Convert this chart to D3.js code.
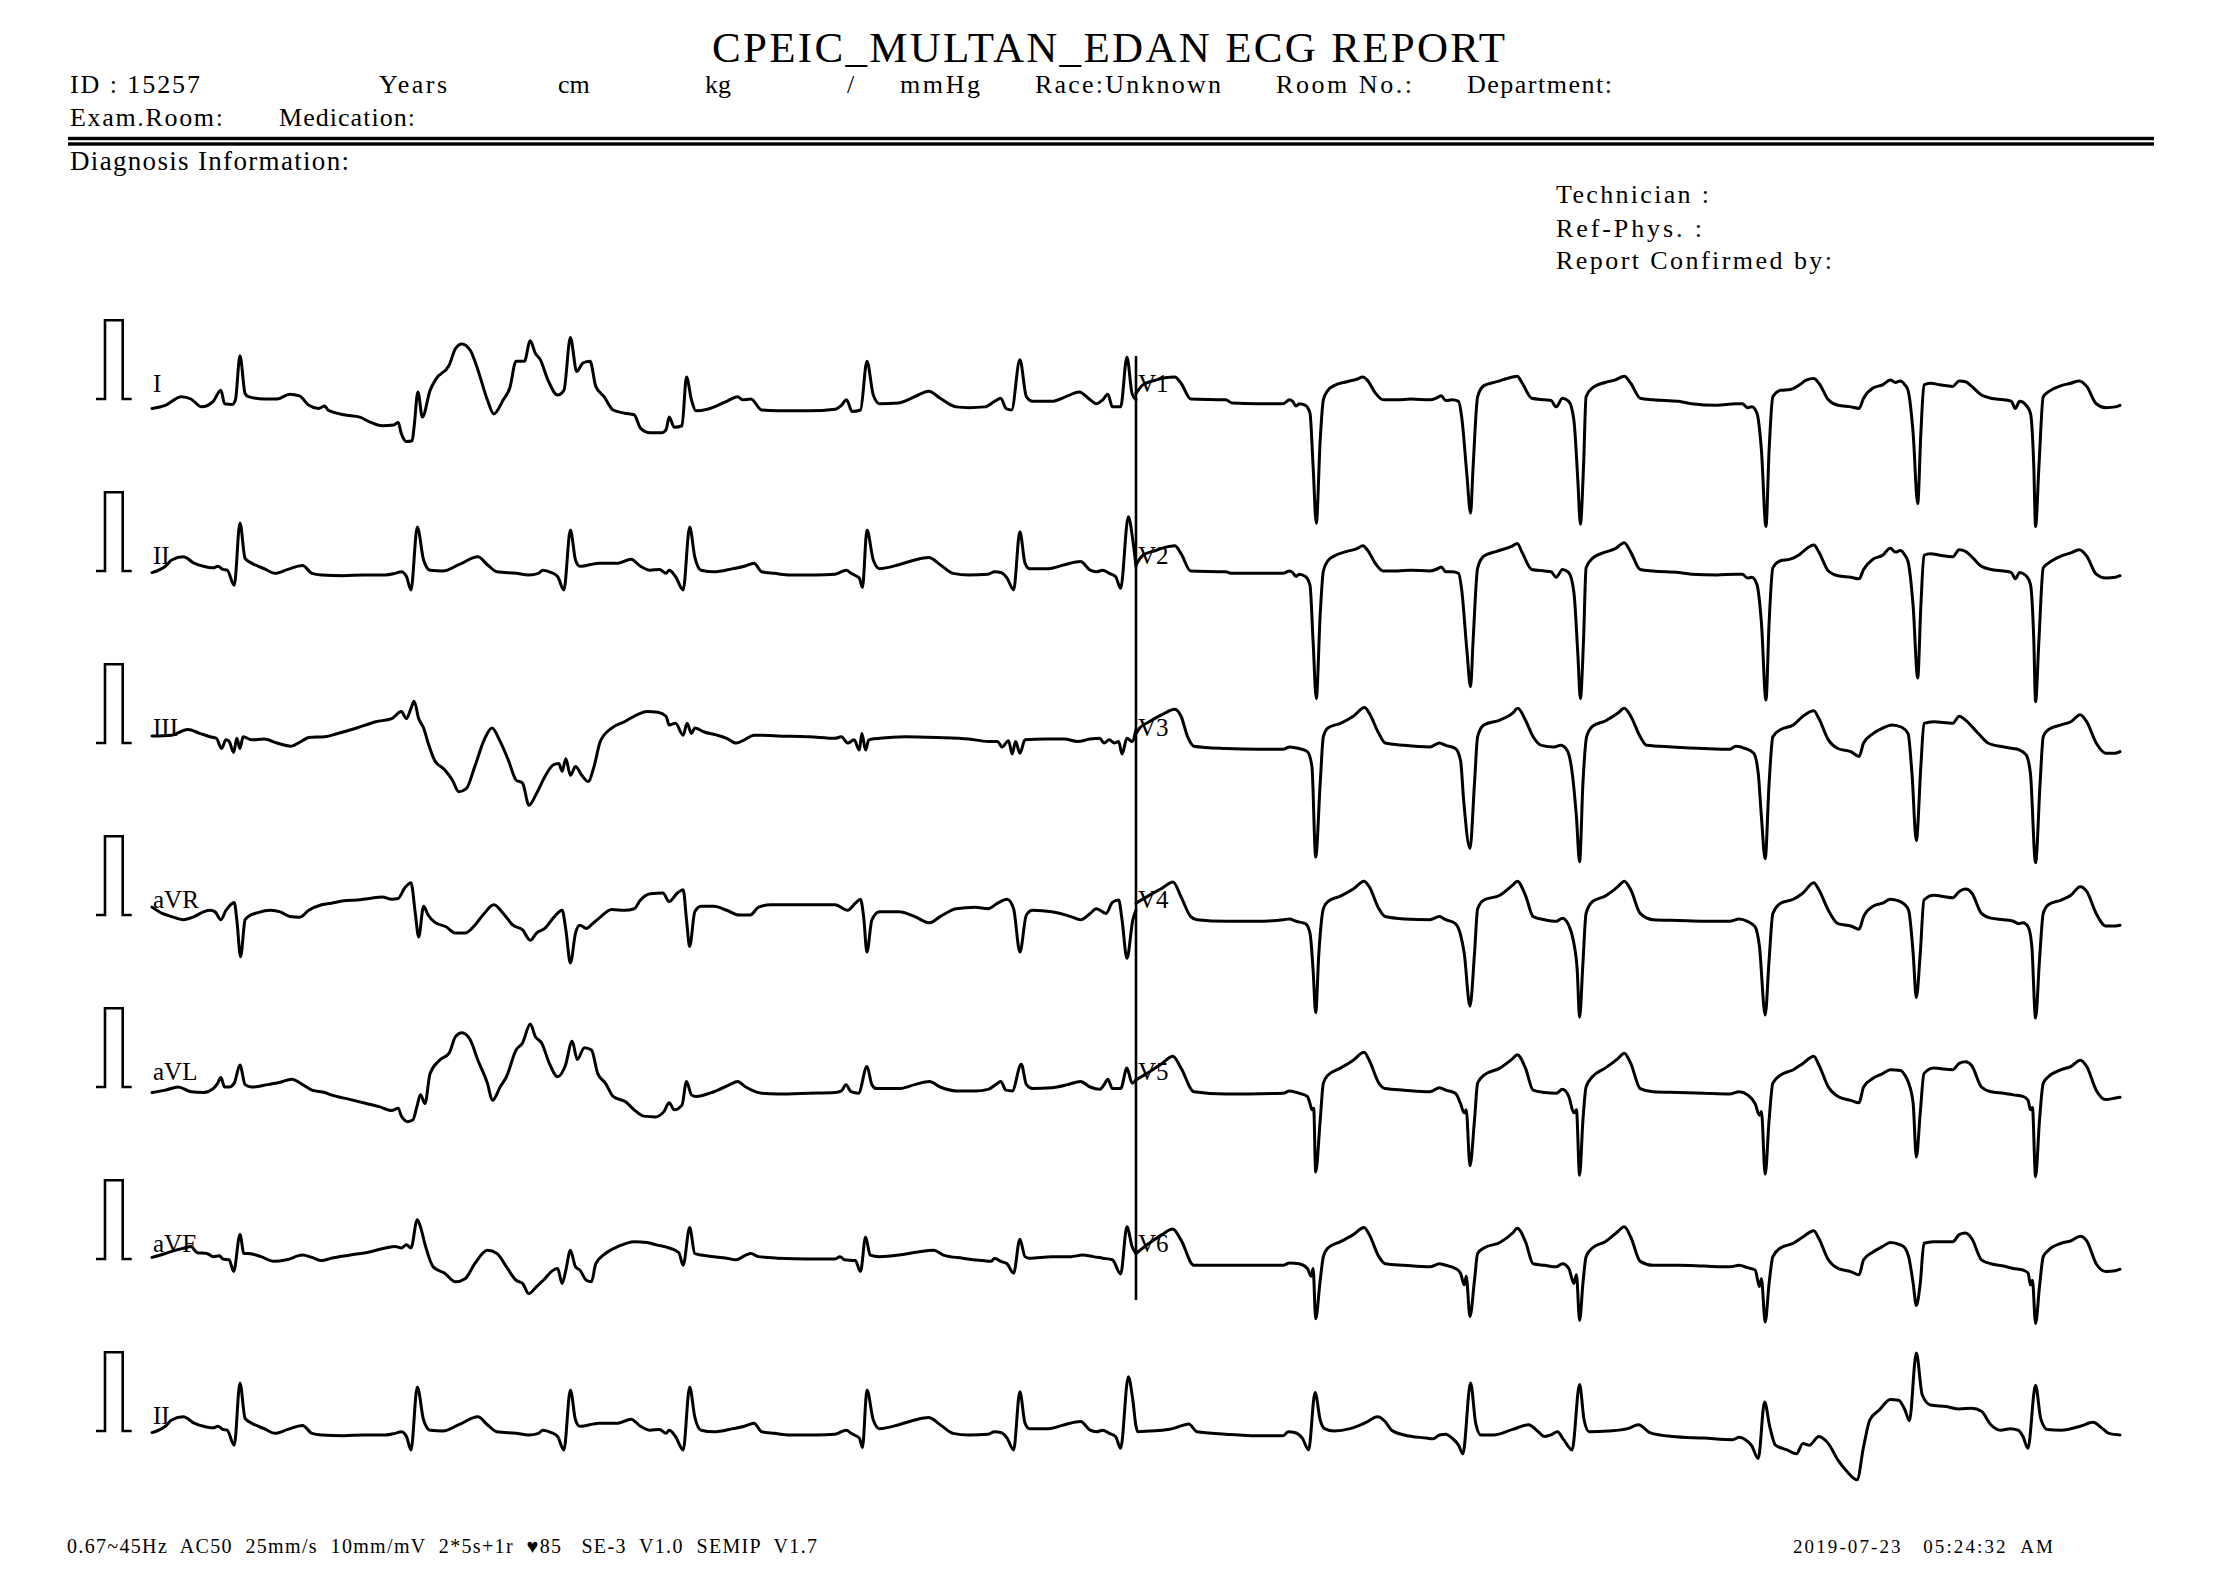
<!DOCTYPE html>
<html><head><meta charset="utf-8">
<script src="https://cdn.jsdelivr.net/npm/d3@7"></script>
<style>html,body{margin:0;padding:0;background:#fff}svg{display:block}</style>
</head><body>
<script>
// ---- Data: [time (s), amplitude (mV)] ----
const leadI = [[0,-0.12],[0.068,-0.08],[0.149,0.03],[0.198,0],[0.253,-0.1],[0.311,-0.03],[0.35,0.11],[0.369,-0.06],[0.408,-0.07],[0.424,-0.01],[0.447,0.55],[0.473,0.07],[0.489,0.03],[0.57,0],[0.635,0],[0.7,0.06],[0.749,0.04],[0.797,-0.08],[0.846,-0.12],[0.878,-0.09],[0.894,-0.14],[0.975,-0.2],[1.056,-0.23],[1.105,-0.29],[1.17,-0.34],[1.228,-0.33],[1.251,-0.3],[1.267,-0.44],[1.293,-0.54],[1.322,-0.53],[1.332,-0.35],[1.351,0.09],[1.374,-0.23],[1.413,0.11],[1.445,0.26],[1.51,0.43],[1.542,0.64],[1.575,0.7],[1.617,0.62],[1.656,0.37],[1.704,-0.01],[1.737,-0.19],[1.785,-0.01],[1.818,0.14],[1.85,0.48],[1.892,0.48],[1.922,0.74],[1.948,0.58],[1.973,0.5],[2.012,0.24],[2.061,0.05],[2.093,0.11],[2.126,0.78],[2.158,0.35],[2.191,0.46],[2.226,0.48],[2.255,0.16],[2.297,0.03],[2.343,-0.14],[2.401,-0.18],[2.45,-0.2],[2.482,-0.37],[2.531,-0.43],[2.589,-0.43],[2.612,-0.39],[2.628,-0.23],[2.654,-0.36],[2.693,-0.34],[2.716,0.28],[2.741,-0.01],[2.764,-0.15],[2.822,-0.13],[2.92,-0.03],[2.975,0.03],[3.001,-0.01],[3.043,0],[3.098,-0.14],[3.179,-0.15],[3.341,-0.15],[3.471,-0.13],[3.503,-0.08],[3.529,-0.01],[3.558,-0.16],[3.6,-0.14],[3.633,0.48],[3.665,0.05],[3.697,-0.06],[3.795,-0.05],[3.876,0.03],[3.947,0.1],[4.005,0.01],[4.086,-0.1],[4.151,-0.11],[4.232,-0.1],[4.281,-0.03],[4.313,0.01],[4.339,-0.12],[4.368,-0.14],[4.41,0.5],[4.443,0.03],[4.475,-0.03],[4.572,-0.03],[4.653,0.04],[4.711,0.09],[4.767,-0.01],[4.799,-0.06],[4.831,-0.01],[4.857,0.06],[4.88,-0.1],[4.922,-0.1],[4.954,0.53],[4.98,0.07],[5,-0.01]];

const leadII = [[0,-0.02],[0.068,0.06],[0.1,0.14],[0.159,0.18],[0.214,0.1],[0.262,0.06],[0.311,0.04],[0.334,0.06],[0.36,0.02],[0.382,0.01],[0.418,-0.18],[0.447,0.61],[0.473,0.16],[0.506,0.1],[0.57,0.03],[0.625,-0.03],[0.69,0.02],[0.765,0.07],[0.813,-0.03],[0.862,-0.05],[0.975,-0.06],[1.073,-0.05],[1.186,-0.05],[1.235,-0.03],[1.267,-0.01],[1.293,-0.07],[1.316,-0.24],[1.348,0.56],[1.38,0.14],[1.413,0.01],[1.478,0],[1.559,0.08],[1.656,0.18],[1.704,0.08],[1.753,-0.01],[1.85,-0.03],[1.915,-0.05],[1.964,-0.03],[1.986,0.01],[2.029,-0.02],[2.061,-0.07],[2.093,-0.24],[2.126,0.52],[2.152,0.14],[2.174,0.06],[2.272,0.1],[2.369,0.1],[2.434,0.15],[2.482,0.06],[2.531,0.01],[2.579,0.02],[2.612,-0.03],[2.628,0.01],[2.66,-0.07],[2.699,-0.24],[2.732,0.56],[2.758,0.18],[2.79,0.01],[2.855,-0.01],[2.952,0.03],[3.01,0.06],[3.059,0.1],[3.098,-0.01],[3.163,-0.03],[3.244,-0.05],[3.373,-0.05],[3.471,-0.04],[3.503,-0.01],[3.529,0.01],[3.552,-0.03],[3.594,-0.09],[3.61,-0.21],[3.633,0.52],[3.665,0.14],[3.697,0.03],[3.795,0.08],[3.876,0.14],[3.947,0.17],[4.005,0.08],[4.07,-0.03],[4.151,-0.05],[4.248,-0.04],[4.281,-0.01],[4.313,-0.02],[4.345,-0.09],[4.378,-0.24],[4.41,0.5],[4.436,0.1],[4.459,0.03],[4.556,0.03],[4.637,0.08],[4.718,0.12],[4.767,0.01],[4.799,-0.01],[4.831,0.01],[4.864,-0.03],[4.896,-0.07],[4.922,-0.22],[4.961,0.69],[4.984,0.39],[5,0.06]];

// rhythm lead II continues from 5 s to 10 s
const leadIITail = [[5.009,-0.01],[5.067,0],[5.164,0.02],[5.213,0.05],[5.268,0.09],[5.31,-0.01],[5.456,-0.04],[5.618,-0.06],[5.748,-0.06],[5.774,-0.01],[5.806,-0.02],[5.845,-0.09],[5.877,-0.24],[5.91,0.49],[5.936,0.14],[5.958,0.03],[6.007,0],[6.088,0.03],[6.169,0.11],[6.227,0.18],[6.266,0.12],[6.299,0.01],[6.363,-0.05],[6.477,-0.09],[6.509,-0.1],[6.542,-0.05],[6.574,-0.04],[6.606,-0.09],[6.639,-0.18],[6.661,-0.29],[6.7,0.61],[6.726,0.1],[6.752,-0.05],[6.817,-0.05],[6.914,0.02],[6.995,0.08],[7.044,-0.01],[7.076,-0.07],[7.109,-0.05],[7.141,-0.01],[7.173,-0.11],[7.216,-0.24],[7.254,0.59],[7.277,0.14],[7.303,-0.01],[7.4,0],[7.498,0.03],[7.553,0.08],[7.611,-0.02],[7.724,-0.07],[7.886,-0.09],[8.032,-0.11],[8.065,-0.08],[8.097,-0.11],[8.129,-0.19],[8.162,-0.35],[8.194,0.37],[8.22,0.06],[8.249,-0.18],[8.308,-0.24],[8.356,-0.29],[8.389,-0.16],[8.421,-0.18],[8.47,-0.07],[8.518,-0.16],[8.567,-0.37],[8.615,-0.52],[8.664,-0.62],[8.697,-0.2],[8.729,0.14],[8.778,0.27],[8.833,0.4],[8.875,0.39],[8.907,0.27],[8.93,0.13],[8.965,0.99],[8.995,0.46],[9.037,0.33],[9.118,0.31],[9.183,0.28],[9.247,0.29],[9.296,0.25],[9.344,0.08],[9.393,0.01],[9.442,0.03],[9.481,0.01],[9.507,-0.07],[9.532,-0.22],[9.571,0.58],[9.597,0.16],[9.63,0.02],[9.701,0.01],[9.798,0.06],[9.863,0.11],[9.912,0.03],[9.944,-0.03],[10,-0.05]];

const leadIII = [[0,0.09],[0.1,0.1],[0.181,0.17],[0.246,0.12],[0.295,0.08],[0.327,0.06],[0.353,-0.07],[0.376,0.04],[0.392,0.02],[0.415,-0.12],[0.431,0.06],[0.447,-0.07],[0.463,0.08],[0.506,0.04],[0.57,0.05],[0.635,0],[0.706,-0.04],[0.765,0.03],[0.797,0.07],[0.878,0.08],[0.943,0.12],[1.04,0.19],[1.137,0.27],[1.218,0.31],[1.267,0.4],[1.293,0.31],[1.316,0.44],[1.332,0.53],[1.355,0.31],[1.38,0.19],[1.403,0],[1.436,-0.22],[1.487,-0.34],[1.526,-0.47],[1.559,-0.62],[1.597,-0.58],[1.64,-0.3],[1.688,0.04],[1.727,0.19],[1.769,0.02],[1.811,-0.22],[1.85,-0.47],[1.883,-0.51],[1.915,-0.79],[1.954,-0.64],[1.996,-0.43],[2.038,-0.28],[2.067,-0.26],[2.084,-0.36],[2.103,-0.2],[2.126,-0.41],[2.152,-0.3],[2.184,-0.41],[2.216,-0.49],[2.246,-0.3],[2.278,0.02],[2.336,0.19],[2.401,0.27],[2.466,0.36],[2.515,0.4],[2.57,0.39],[2.612,0.34],[2.628,0.23],[2.66,0.25],[2.699,0.1],[2.719,0.25],[2.741,0.12],[2.758,0.19],[2.806,0.14],[2.871,0.1],[2.92,0.06],[2.968,0],[3.01,0.04],[3.059,0.1],[3.179,0.09],[3.341,0.08],[3.471,0.06],[3.503,0.08],[3.535,0],[3.568,0.04],[3.594,-0.09],[3.607,0.12],[3.626,-0.09],[3.642,0.04],[3.697,0.06],[3.827,0.08],[3.989,0.07],[4.151,0.05],[4.248,0.02],[4.297,0.02],[4.319,-0.05],[4.352,0.03],[4.371,-0.14],[4.388,0.02],[4.41,-0.13],[4.436,0.04],[4.54,0.05],[4.637,0.05],[4.702,0.02],[4.767,0.05],[4.815,0.06],[4.838,0],[4.864,0.04],[4.89,0],[4.912,0.02],[4.929,-0.14],[4.954,0.06],[4.98,0.02],[5,0.17]];

const leadAVR = [[0,0.1],[0.052,0.02],[0.1,-0.02],[0.159,-0.06],[0.214,-0.02],[0.262,0.04],[0.295,0.06],[0.321,0.04],[0.35,-0.06],[0.376,0.06],[0.399,0.13],[0.418,0.16],[0.431,-0.06],[0.45,-0.53],[0.473,-0.06],[0.489,-0.02],[0.538,0.03],[0.603,0.06],[0.651,0.04],[0.7,-0.02],[0.749,-0.03],[0.797,0.06],[0.862,0.13],[0.911,0.15],[0.975,0.18],[1.04,0.19],[1.105,0.21],[1.17,0.23],[1.218,0.2],[1.251,0.21],[1.283,0.34],[1.316,0.41],[1.338,0.02],[1.355,-0.28],[1.38,0.11],[1.403,0],[1.436,-0.09],[1.494,-0.15],[1.542,-0.23],[1.591,-0.23],[1.64,-0.13],[1.688,0.02],[1.737,0.13],[1.785,0.02],[1.834,-0.13],[1.883,-0.19],[1.922,-0.32],[1.954,-0.23],[1.996,-0.17],[2.045,-0.02],[2.084,0.06],[2.103,-0.19],[2.126,-0.61],[2.152,-0.23],[2.174,-0.13],[2.207,-0.17],[2.239,-0.11],[2.272,-0.04],[2.336,0.07],[2.401,0.06],[2.45,0.08],[2.482,0.19],[2.531,0.27],[2.596,0.28],[2.628,0.17],[2.67,0.28],[2.699,0.32],[2.716,-0.06],[2.732,-0.4],[2.758,0.04],[2.79,0.11],[2.855,0.11],[2.92,0.06],[2.984,0],[3.04,0],[3.082,0.1],[3.146,0.13],[3.308,0.13],[3.471,0.13],[3.535,0.06],[3.574,0.15],[3.6,0.2],[3.616,-0.02],[3.633,-0.47],[3.658,-0.06],[3.697,0.04],[3.795,0.04],[3.876,-0.02],[3.95,-0.1],[4.005,-0.02],[4.086,0.08],[4.183,0.1],[4.248,0.08],[4.297,0.15],[4.345,0.2],[4.378,0.08],[4.41,-0.47],[4.443,0],[4.475,0.06],[4.572,0.04],[4.669,-0.02],[4.718,-0.06],[4.767,0.02],[4.799,0.08],[4.848,0.02],[4.88,0.16],[4.912,0.19],[4.929,-0.06],[4.954,-0.55],[4.984,-0.06],[5,0.06]];

const leadAVL = [[0,-0.07],[0.068,-0.04],[0.133,0],[0.198,-0.06],[0.262,-0.07],[0.311,-0.02],[0.334,0.05],[0.35,0.12],[0.369,0],[0.392,0],[0.418,0.05],[0.447,0.28],[0.473,0.03],[0.506,0],[0.587,0.03],[0.651,0.06],[0.71,0.1],[0.765,0.03],[0.813,-0.04],[0.878,-0.07],[0.911,-0.1],[1.008,-0.16],[1.089,-0.21],[1.154,-0.25],[1.218,-0.3],[1.251,-0.27],[1.267,-0.37],[1.299,-0.44],[1.325,-0.42],[1.348,-0.23],[1.364,-0.1],[1.387,-0.21],[1.413,0.17],[1.461,0.34],[1.51,0.43],[1.542,0.64],[1.575,0.69],[1.617,0.6],[1.656,0.34],[1.704,0.05],[1.73,-0.17],[1.769,0],[1.801,0.13],[1.85,0.47],[1.883,0.56],[1.922,0.8],[1.948,0.64],[1.98,0.56],[2.019,0.3],[2.061,0.13],[2.1,0.27],[2.135,0.58],[2.161,0.35],[2.197,0.5],[2.233,0.47],[2.265,0.17],[2.304,0.05],[2.343,-0.12],[2.408,-0.19],[2.45,-0.29],[2.498,-0.37],[2.557,-0.38],[2.602,-0.31],[2.628,-0.2],[2.654,-0.29],[2.693,-0.23],[2.716,0.07],[2.741,-0.1],[2.764,-0.12],[2.855,-0.06],[2.936,0.03],[2.975,0.07],[3.017,0],[3.098,-0.08],[3.179,-0.09],[3.341,-0.08],[3.471,-0.07],[3.503,-0.05],[3.526,0.03],[3.552,-0.06],[3.59,-0.08],[3.633,0.26],[3.658,0.03],[3.681,-0.02],[3.795,-0.02],[3.876,0.03],[3.95,0.07],[4.005,0],[4.086,-0.05],[4.183,-0.05],[4.248,-0.03],[4.287,0.03],[4.313,0.07],[4.339,-0.04],[4.371,-0.05],[4.417,0.29],[4.443,0.03],[4.475,-0.02],[4.572,-0.01],[4.653,0.03],[4.718,0.07],[4.767,0],[4.815,-0.03],[4.838,0.03],[4.857,0.1],[4.88,-0.02],[4.922,-0.02],[4.954,0.24],[4.98,0.05],[5,0.09]];

const leadAVF = [[0,0.02],[0.068,0.07],[0.117,0.11],[0.165,0.14],[0.198,0.16],[0.23,0.08],[0.279,0.07],[0.311,0.03],[0.343,0.04],[0.36,0],[0.392,-0.01],[0.415,-0.16],[0.447,0.31],[0.467,0.07],[0.489,0.07],[0.554,0.03],[0.619,-0.03],[0.684,-0.01],[0.765,0.05],[0.813,0.02],[0.862,-0.02],[0.911,0.01],[1.008,0.05],[1.105,0.09],[1.186,0.14],[1.235,0.16],[1.267,0.14],[1.293,0.18],[1.316,0.14],[1.348,0.5],[1.364,0.41],[1.39,0.16],[1.429,-0.1],[1.487,-0.18],[1.542,-0.29],[1.591,-0.25],[1.64,-0.06],[1.704,0.11],[1.753,0.07],[1.801,-0.1],[1.85,-0.27],[1.883,-0.31],[1.915,-0.44],[1.954,-0.35],[1.996,-0.25],[2.029,-0.16],[2.061,-0.12],[2.084,-0.31],[2.103,-0.14],[2.126,0.11],[2.152,-0.1],[2.174,-0.14],[2.207,-0.27],[2.233,-0.29],[2.255,-0.06],[2.304,0.07],[2.369,0.16],[2.45,0.22],[2.515,0.21],[2.563,0.18],[2.628,0.14],[2.677,0.08],[2.699,-0.08],[2.732,0.4],[2.758,0.07],[2.79,0.05],[2.855,0.03],[2.92,0.01],[2.968,-0.01],[3.017,0.05],[3.043,0.07],[3.082,0.03],[3.179,0.01],[3.341,0],[3.471,0],[3.496,0.03],[3.519,-0.01],[3.574,-0.02],[3.6,-0.16],[3.626,0.28],[3.649,0.05],[3.697,0.03],[3.795,0.05],[3.892,0.09],[3.973,0.11],[4.021,0.05],[4.119,0.01],[4.216,-0.02],[4.264,-0.03],[4.281,0.01],[4.313,-0.03],[4.345,-0.06],[4.378,-0.18],[4.41,0.25],[4.436,0.03],[4.459,0.01],[4.572,0.03],[4.669,0.03],[4.728,0.05],[4.783,0.03],[4.831,0.01],[4.88,-0.01],[4.922,-0.19],[4.954,0.41],[4.98,0.16],[5,0.07]];

const leadV1 = [[5.0,0.07],[5.035,0.18],[5.1,0.24],[5.148,0.27],[5.197,0.28],[5.229,0.2],[5.278,0],[5.456,-0.01],[5.488,-0.05],[5.618,-0.06],[5.748,-0.06],[5.78,-0.01],[5.796,-0.03],[5.813,-0.09],[5.829,-0.06],[5.861,-0.08],[5.884,-0.18],[5.9,-0.86],[5.916,-1.58],[5.936,-0.52],[5.952,-0.01],[5.975,0.11],[6.007,0.17],[6.072,0.22],[6.12,0.25],[6.153,0.28],[6.175,0.24],[6.218,0.07],[6.256,-0.01],[6.331,-0.01],[6.396,0],[6.493,-0.01],[6.525,0.01],[6.551,0.04],[6.574,-0.02],[6.606,-0.01],[6.639,-0.03],[6.655,-0.23],[6.681,-0.95],[6.7,-1.45],[6.713,-0.86],[6.736,0.03],[6.768,0.17],[6.833,0.22],[6.914,0.28],[6.937,0.29],[6.963,0.2],[7.011,0.01],[7.076,-0.01],[7.109,-0.02],[7.135,-0.1],[7.167,0.01],[7.199,-0.03],[7.225,-0.27],[7.245,-1.03],[7.258,-1.59],[7.274,-0.86],[7.287,0.03],[7.319,0.14],[7.384,0.21],[7.433,0.24],[7.481,0.29],[7.514,0.2],[7.562,0.01],[7.627,-0.01],[7.757,-0.03],[7.822,-0.06],[7.951,-0.08],[8.048,-0.06],[8.081,-0.06],[8.107,-0.11],[8.129,-0.1],[8.155,-0.18],[8.178,-0.65],[8.201,-1.62],[8.217,-0.65],[8.236,0.03],[8.275,0.11],[8.324,0.12],[8.372,0.18],[8.405,0.24],[8.444,0.26],[8.47,0.2],[8.518,-0.01],[8.567,-0.08],[8.632,-0.1],[8.674,-0.12],[8.697,0.01],[8.745,0.14],[8.794,0.18],[8.833,0.24],[8.859,0.21],[8.884,0.23],[8.907,0.18],[8.923,0.11],[8.949,-0.44],[8.972,-1.33],[8.988,-0.44],[9.004,0.18],[9.037,0.2],[9.085,0.18],[9.15,0.16],[9.183,0.23],[9.215,0.22],[9.247,0.16],[9.296,0.05],[9.344,0.01],[9.409,-0.01],[9.448,-0.03],[9.468,-0.12],[9.49,-0.03],[9.523,-0.08],[9.545,-0.18],[9.562,-0.86],[9.571,-1.62],[9.588,-0.86],[9.61,0.03],[9.636,0.09],[9.701,0.17],[9.75,0.2],[9.792,0.23],[9.831,0.16],[9.879,-0.06],[9.928,-0.11],[9.977,-0.1],[10,-0.08]];

const leadV2 = [[5.0,0.08],[5.035,0.2],[5.1,0.26],[5.148,0.3],[5.197,0.32],[5.229,0.22],[5.278,0],[5.456,-0.01],[5.488,-0.03],[5.618,-0.03],[5.748,-0.03],[5.78,0],[5.796,-0.02],[5.813,-0.07],[5.829,-0.04],[5.861,-0.07],[5.884,-0.18],[5.9,-0.9],[5.916,-1.62],[5.936,-0.55],[5.952,0],[5.975,0.13],[6.007,0.19],[6.072,0.25],[6.12,0.28],[6.153,0.32],[6.175,0.27],[6.218,0.09],[6.256,0],[6.331,0],[6.396,0.01],[6.493,0],[6.525,0.02],[6.551,0.05],[6.574,-0.01],[6.606,-0.01],[6.639,-0.03],[6.655,-0.24],[6.681,-1.0],[6.7,-1.47],[6.713,-0.88],[6.736,0.04],[6.768,0.19],[6.833,0.25],[6.914,0.32],[6.937,0.35],[6.963,0.23],[7.011,0.02],[7.076,0],[7.109,-0.01],[7.135,-0.08],[7.167,0.02],[7.199,-0.02],[7.225,-0.27],[7.245,-1.05],[7.258,-1.62],[7.274,-0.88],[7.287,0.04],[7.319,0.16],[7.384,0.24],[7.433,0.28],[7.481,0.36],[7.514,0.24],[7.562,0.02],[7.627,0],[7.757,-0.02],[7.822,-0.04],[7.951,-0.05],[8.048,-0.04],[8.081,-0.04],[8.107,-0.09],[8.129,-0.08],[8.155,-0.17],[8.178,-0.66],[8.201,-1.64],[8.217,-0.66],[8.236,0.04],[8.275,0.13],[8.324,0.15],[8.372,0.21],[8.405,0.28],[8.444,0.33],[8.47,0.24],[8.518,0],[8.567,-0.06],[8.632,-0.08],[8.674,-0.1],[8.697,0.02],[8.745,0.15],[8.794,0.2],[8.833,0.29],[8.859,0.24],[8.884,0.26],[8.907,0.2],[8.923,0.12],[8.949,-0.45],[8.972,-1.36],[8.988,-0.45],[9.004,0.2],[9.037,0.22],[9.085,0.2],[9.15,0.18],[9.183,0.27],[9.215,0.25],[9.247,0.18],[9.296,0.06],[9.344,0.02],[9.409,0],[9.448,-0.02],[9.468,-0.1],[9.49,-0.02],[9.523,-0.06],[9.545,-0.17],[9.562,-0.88],[9.571,-1.66],[9.588,-0.88],[9.61,0.04],[9.636,0.1],[9.701,0.19],[9.75,0.23],[9.792,0.27],[9.831,0.19],[9.879,-0.04],[9.928,-0.09],[9.977,-0.08],[10,-0.06]];

const leadV3 = [[5.0,0.12],[5.019,0.19],[5.067,0.27],[5.132,0.36],[5.197,0.43],[5.229,0.34],[5.262,0.08],[5.294,-0.04],[5.456,-0.07],[5.618,-0.08],[5.748,-0.08],[5.78,-0.05],[5.829,-0.07],[5.871,-0.11],[5.894,-0.3],[5.913,-1.45],[5.936,-0.51],[5.952,0.08],[5.975,0.19],[6.039,0.25],[6.104,0.34],[6.162,0.45],[6.185,0.38],[6.234,0.12],[6.266,0],[6.363,-0.03],[6.493,-0.05],[6.542,0],[6.574,-0.03],[6.623,-0.07],[6.649,-0.22],[6.665,-0.73],[6.697,-1.34],[6.72,-0.51],[6.736,0.08],[6.768,0.23],[6.849,0.29],[6.914,0.38],[6.94,0.44],[6.979,0.29],[7.018,0.08],[7.06,-0.03],[7.125,-0.05],[7.157,-0.03],[7.19,-0.09],[7.212,-0.3],[7.238,-0.94],[7.254,-1.51],[7.271,-0.51],[7.29,0.08],[7.319,0.21],[7.384,0.28],[7.449,0.38],[7.481,0.44],[7.514,0.34],[7.562,0.08],[7.595,-0.03],[7.724,-0.05],[7.886,-0.07],[8.016,-0.08],[8.048,-0.04],[8.097,-0.07],[8.139,-0.13],[8.162,-0.39],[8.178,-0.94],[8.197,-1.47],[8.217,-0.51],[8.236,0.08],[8.275,0.17],[8.34,0.23],[8.389,0.34],[8.444,0.41],[8.47,0.31],[8.518,0.04],[8.567,-0.07],[8.632,-0.11],[8.674,-0.17],[8.697,0],[8.745,0.12],[8.794,0.19],[8.842,0.23],[8.891,0.2],[8.923,0.12],[8.943,-0.39],[8.965,-1.24],[8.988,-0.3],[9.004,0.25],[9.053,0.27],[9.15,0.25],[9.183,0.34],[9.215,0.29],[9.28,0.12],[9.329,0],[9.409,-0.05],[9.458,-0.07],[9.49,-0.09],[9.523,-0.15],[9.545,-0.39],[9.571,-1.52],[9.594,-0.51],[9.61,0.08],[9.636,0.17],[9.701,0.23],[9.75,0.27],[9.798,0.36],[9.831,0.27],[9.879,0],[9.928,-0.13],[9.977,-0.13],[10,-0.11]];

const leadV4 = [[5.0,0.15],[5.067,0.25],[5.132,0.34],[5.188,0.42],[5.229,0.23],[5.278,-0.02],[5.31,-0.06],[5.456,-0.08],[5.618,-0.08],[5.748,-0.06],[5.78,-0.05],[5.813,-0.08],[5.861,-0.11],[5.884,-0.23],[5.9,-0.7],[5.913,-1.24],[5.929,-0.49],[5.952,0.08],[5.975,0.17],[6.039,0.24],[6.104,0.33],[6.159,0.43],[6.185,0.36],[6.234,0.08],[6.266,-0.02],[6.363,-0.05],[6.493,-0.06],[6.542,-0.02],[6.574,-0.06],[6.623,-0.11],[6.649,-0.25],[6.668,-0.49],[6.697,-1.16],[6.72,-0.49],[6.736,0.08],[6.768,0.19],[6.849,0.25],[6.914,0.38],[6.937,0.43],[6.979,0.25],[7.018,-0.02],[7.076,-0.06],[7.135,-0.08],[7.167,-0.04],[7.199,-0.13],[7.225,-0.36],[7.242,-0.7],[7.254,-1.3],[7.271,-0.61],[7.287,0.02],[7.319,0.17],[7.384,0.24],[7.449,0.36],[7.481,0.43],[7.514,0.32],[7.562,0.02],[7.627,-0.06],[7.757,-0.07],[7.886,-0.08],[8.016,-0.08],[8.065,-0.05],[8.107,-0.08],[8.146,-0.15],[8.168,-0.4],[8.197,-1.27],[8.217,-0.57],[8.236,0.02],[8.275,0.15],[8.34,0.2],[8.389,0.28],[8.444,0.41],[8.47,0.32],[8.518,0.06],[8.567,-0.11],[8.632,-0.14],[8.674,-0.18],[8.697,-0.02],[8.745,0.11],[8.794,0.15],[8.833,0.2],[8.859,0.19],[8.884,0.17],[8.907,0.13],[8.926,0.06],[8.949,-0.49],[8.965,-1.05],[8.985,-0.49],[9.004,0.19],[9.053,0.25],[9.15,0.22],[9.183,0.3],[9.215,0.33],[9.247,0.28],[9.296,0.02],[9.344,-0.04],[9.409,-0.06],[9.458,-0.08],[9.484,-0.11],[9.507,-0.1],[9.533,-0.15],[9.552,-0.4],[9.571,-1.31],[9.591,-0.57],[9.61,0.02],[9.636,0.13],[9.701,0.19],[9.75,0.25],[9.798,0.36],[9.831,0.3],[9.879,0.02],[9.928,-0.14],[9.977,-0.14],[10,-0.13]];

const leadV5 = [[5.0,0.09],[5.067,0.19],[5.132,0.3],[5.187,0.39],[5.229,0.24],[5.294,-0.06],[5.456,-0.09],[5.748,-0.08],[5.78,-0.05],[5.829,-0.08],[5.871,-0.12],[5.884,-0.21],[5.894,-0.29],[5.903,-0.27],[5.913,-1.08],[5.936,-0.42],[5.952,0.05],[5.975,0.15],[6.039,0.24],[6.104,0.34],[6.159,0.44],[6.185,0.34],[6.234,0.05],[6.266,-0.02],[6.363,-0.04],[6.493,-0.06],[6.542,-0.01],[6.574,-0.04],[6.623,-0.08],[6.649,-0.21],[6.668,-0.33],[6.678,-0.29],[6.697,-1.0],[6.72,-0.42],[6.736,0.05],[6.768,0.15],[6.849,0.24],[6.914,0.36],[6.937,0.41],[6.979,0.24],[7.018,-0.04],[7.076,-0.07],[7.135,-0.08],[7.167,-0.03],[7.199,-0.12],[7.225,-0.33],[7.238,-0.29],[7.254,-1.12],[7.271,-0.42],[7.287,0],[7.319,0.13],[7.384,0.24],[7.449,0.36],[7.481,0.43],[7.514,0.3],[7.562,-0.02],[7.627,-0.06],[7.757,-0.07],[7.886,-0.08],[8.016,-0.09],[8.065,-0.06],[8.107,-0.1],[8.146,-0.21],[8.168,-0.36],[8.178,-0.31],[8.197,-1.11],[8.217,-0.42],[8.236,0.05],[8.275,0.15],[8.34,0.22],[8.389,0.3],[8.444,0.39],[8.47,0.28],[8.518,0],[8.567,-0.12],[8.632,-0.17],[8.674,-0.2],[8.697,0],[8.745,0.11],[8.794,0.17],[8.833,0.22],[8.884,0.21],[8.907,0.15],[8.926,0.05],[8.949,-0.21],[8.965,-0.89],[8.985,-0.33],[9.004,0.17],[9.053,0.24],[9.15,0.22],[9.183,0.3],[9.215,0.32],[9.247,0.27],[9.296,0],[9.344,-0.06],[9.409,-0.08],[9.458,-0.1],[9.507,-0.12],[9.533,-0.17],[9.545,-0.29],[9.555,-0.26],[9.571,-1.14],[9.591,-0.42],[9.61,0.05],[9.636,0.13],[9.701,0.22],[9.75,0.26],[9.798,0.34],[9.831,0.26],[9.879,-0.04],[9.928,-0.16],[9.977,-0.14],[10,-0.13]];

const leadV6 = [[5.0,0.07],[5.067,0.2],[5.132,0.31],[5.187,0.38],[5.229,0.24],[5.294,-0.08],[5.456,-0.08],[5.748,-0.08],[5.78,-0.05],[5.829,-0.06],[5.871,-0.12],[5.89,-0.22],[5.9,-0.12],[5.913,-0.76],[5.936,-0.27],[5.952,0.03],[5.975,0.14],[6.039,0.22],[6.104,0.31],[6.159,0.4],[6.185,0.31],[6.234,0.03],[6.266,-0.06],[6.363,-0.08],[6.493,-0.1],[6.542,-0.06],[6.574,-0.08],[6.623,-0.12],[6.649,-0.18],[6.668,-0.33],[6.678,-0.22],[6.697,-0.73],[6.72,-0.27],[6.736,0.07],[6.768,0.14],[6.849,0.21],[6.914,0.33],[6.937,0.39],[6.979,0.22],[7.018,-0.06],[7.076,-0.08],[7.135,-0.1],[7.167,-0.06],[7.199,-0.12],[7.225,-0.31],[7.238,-0.2],[7.254,-0.78],[7.271,-0.31],[7.287,0.03],[7.319,0.14],[7.384,0.22],[7.449,0.35],[7.481,0.41],[7.514,0.28],[7.562,-0.03],[7.627,-0.08],[7.757,-0.08],[7.886,-0.09],[8.016,-0.1],[8.065,-0.08],[8.107,-0.11],[8.146,-0.14],[8.168,-0.35],[8.178,-0.25],[8.197,-0.8],[8.217,-0.31],[8.236,0.03],[8.275,0.14],[8.34,0.2],[8.389,0.28],[8.444,0.36],[8.47,0.26],[8.518,-0.01],[8.567,-0.12],[8.632,-0.16],[8.674,-0.2],[8.697,-0.01],[8.745,0.09],[8.794,0.16],[8.833,0.21],[8.884,0.18],[8.907,0.14],[8.926,0.03],[8.949,-0.31],[8.965,-0.59],[8.985,-0.31],[9.004,0.2],[9.053,0.22],[9.15,0.22],[9.183,0.31],[9.215,0.33],[9.247,0.26],[9.296,-0.01],[9.344,-0.06],[9.409,-0.09],[9.458,-0.12],[9.507,-0.14],[9.533,-0.18],[9.545,-0.33],[9.555,-0.27],[9.571,-0.82],[9.591,-0.35],[9.61,0.03],[9.636,0.11],[9.701,0.2],[9.75,0.23],[9.798,0.29],[9.831,0.23],[9.879,-0.06],[9.928,-0.16],[9.977,-0.15],[10,-0.13]];

const leftLeadNames = ["I","II","III","aVR","aVL","aVF"];
const rightLeadNames = ["V1","V2","V3","V4","V5","V6"];
const rhythmLeadName = "II";
const calibrationMv = [0, 1, 1, 0];   // 10 mm/mV calibration pulse

const titleText = "CPEIC_MULTAN_EDAN ECG REPORT";
const footerLeft = "0.67~45Hz  AC50  25mm/s  10mm/mV  2*5s+1r  \u266585   SE-3  V1.0  SEMIP  V1.7";
const footerRight = "2019-07-23   05:24:32  AM";

// ---- Drawing ----
const W = 2213, H = 1572;
const svg = d3.select("body").append("svg").attr("width", W).attr("height", H)
  .attr("viewBox", `0 0 ${W} ${H}`).style("background", "#fff");
svg.append("rect").attr("width", W).attr("height", H).attr("fill", "#fff");

const serif = "'Liberation Serif','Times New Roman',Times,serif";

function txt(s, x, y, size, len, mode) {
  const t = svg.append("text").attr("x", x).attr("y", y)
    .attr("font-family", serif).attr("font-size", size).attr("fill", "#000")
    .style("white-space", "pre").text(s);
  if (len) t.attr("textLength", len).attr("lengthAdjust", mode || "spacing");
  return t;
}

// Header
txt(titleText, 712, 62, 43, 793);
const infoLine = [["ID : 15257",70,130],["Years",379,68],["cm",558,0],["kg",705,0],["/",847,0],["mmHg",900,80],["Race:Unknown",1035,186],["Room No.:",1276,136],["Department:",1467,145]];
infoLine.forEach(d => txt(d[0], d[1], 93, 26, d[2]));
txt("Exam.Room:", 70, 126, 26, 153);
txt("Medication:", 279, 126, 26, 136);
svg.append("rect").attr("x", 68).attr("y", 136.8).attr("width", 2086).attr("height", 3.4).attr("fill", "#000");
svg.append("rect").attr("x", 68).attr("y", 142.3).attr("width", 2086).attr("height", 3.4).attr("fill", "#000");
txt("Diagnosis Information:", 70, 170, 27, 279);
txt("Technician :", 1556, 203, 26, 153);
txt("Ref-Phys. :", 1556, 237, 26, 146);
txt("Report Confirmed by:", 1556, 269, 26, 276);

// Footer
txt(footerLeft, 67, 1553, 20, 750);
txt(footerRight, 1793, 1553, 19, 260);

// Scales
const xLeft = d3.scaleLinear().domain([0, 5]).range([152, 1136]);
const xRight = d3.scaleLinear().domain([5, 10]).range([1136, 2120]);
const xFull = d3.scaleLinear().domain([0, 10]).range([152, 2120]);
const rowZero = i => 399 + 172 * i;
const yRow = i => d3.scaleLinear().domain([0, 1]).range([rowZero(i), rowZero(i) - 78.7]);

const g = svg.append("g").attr("fill", "none").attr("stroke", "#000")
  .attr("stroke-width", 3).attr("stroke-linejoin", "round").attr("stroke-linecap", "round");

function trace(data, xs, ys) {
  const line = d3.line().curve(d3.curveMonotoneX).x(d => xs(d[0])).y(d => ys(d[1]));
  g.append("path").attr("d", line(data));
}

// Calibration pulses (x positions in pixels of the pulse shape)
const pulseX = [96, 105, 105, 122.7, 122.7, 131.7];
function pulse(ys) {
  const mv = [calibrationMv[0], calibrationMv[0], calibrationMv[1], calibrationMv[2], calibrationMv[3], calibrationMv[3]];
  const pts = pulseX.map((x, i) => [x, ys(mv[i])]);
  g.append("path").attr("d", d3.line()(pts)).attr("stroke-width", 2.6)
    .attr("stroke-linejoin", "miter").attr("stroke-linecap", "butt");
}

const leftData = [leadI, leadII, leadIII, leadAVR, leadAVL, leadAVF];
const rightData = [leadV1, leadV2, leadV3, leadV4, leadV5, leadV6];

leftData.forEach((d, i) => {
  const ys = yRow(i);
  pulse(ys);
  trace(d, xLeft, ys);
  trace(rightData[i], xRight, ys);
  txt(leftLeadNames[i], 153, rowZero(i) - 7, 25);
  txt(rightLeadNames[i], 1138, rowZero(i) - 7, 25);
});

// rhythm strip (lead II, 10 s)
{
  const ys = yRow(6);
  pulse(ys);
  trace(leadII.concat(leadIITail), xFull, ys);
  txt(rhythmLeadName, 153, rowZero(6) - 7, 25);
}

// divider between the two 5 s segments
svg.append("line").attr("x1", 1136).attr("x2", 1136).attr("y1", 356).attr("y2", 1300)
  .attr("stroke", "#000").attr("stroke-width", 2.6);
</script>
</body></html>
